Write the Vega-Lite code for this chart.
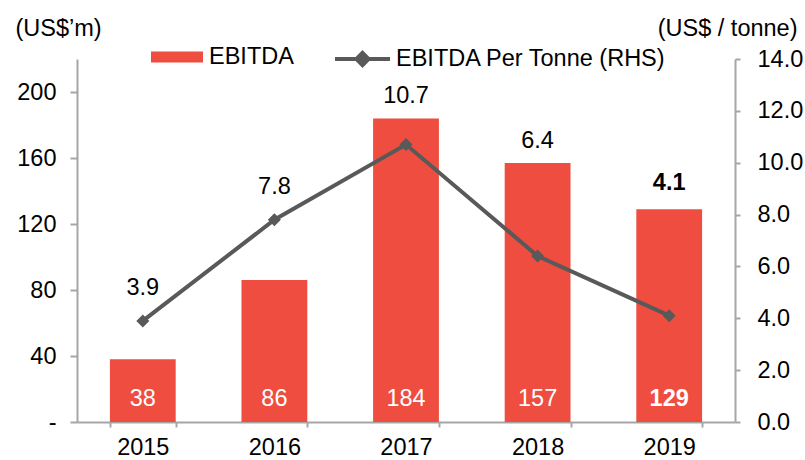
{
  "$schema": "https://vega.github.io/schema/vega-lite/v6.json",
  "width": 658,
  "height": 363,
  "autosize": {"type": "none"},
  "padding": {"left": 77, "top": 59, "right": 70, "bottom": 38},
  "background": "white",
  "config": {
    "font": "Liberation Sans",
    "view": {"stroke": null},
    "axis": {
      "labelFont": "Liberation Sans",
      "labelFontSize": 23.5,
      "labelColor": "#000000",
      "titleFont": "Liberation Sans",
      "titleFontSize": 23.5,
      "titleFontWeight": "normal",
      "titleColor": "#000000",
      "domainColor": "#A6A6A6",
      "tickColor": "#A6A6A6",
      "domainWidth": 2,
      "tickWidth": 2,
      "grid": false
    },
    "legend": {
      "labelFont": "Liberation Sans",
      "labelFontSize": 23.5,
      "labelColor": "#000000",
      "labelLimit": 500,
      "padding": 0,
      "orient": "none"
    }
  },
  "data": {
    "values": [
      {"year": "2015", "ebitda": 38, "tonne": 3.9},
      {"year": "2016", "ebitda": 86, "tonne": 7.8},
      {"year": "2017", "ebitda": 184, "tonne": 10.7},
      {"year": "2018", "ebitda": 157, "tonne": 6.4},
      {"year": "2019", "ebitda": 129, "tonne": 4.1}
    ]
  },
  "layer": [
    {
      "encoding": {
        "x": {
          "field": "year",
          "type": "nominal",
          "scale": {"paddingInner": 0.5, "paddingOuter": 0.25},
          "axis": {"title": null, "labelAngle": 0, "tickBand": "extent", "tickSize": 5, "labelPadding": 8}
        },
        "y": {
          "field": "ebitda",
          "type": "quantitative",
          "scale": {"domain": [0, 220], "nice": false},
          "axis": {
            "values": [0, 40, 80, 120, 160, 200],
            "labelExpr": "datum.value == 0 ? '-' : datum.label",
            "tickSize": 7,
            "labelPadding": 14,
            "title": "(US$\u2019m)",
            "titleAngle": 0,
            "titleAlign": "left",
            "titleBaseline": "alphabetic",
            "titleX": -62,
            "titleY": -24
          }
        }
      },
      "layer": [
        {
          "mark": {"type": "bar"},
          "encoding": {
            "fill": {
              "datum": "EBITDA",
              "type": "nominal",
              "scale": {"range": ["#EE4D3F"]},
              "legend": {
                "title": null,
                "legendX": 74,
                "legendY": -28,
                "symbolType": "M-1,-0.21H1V0.21H-1Z",
                "symbolSize": 2704,
                "symbolStrokeWidth": 0,
                "labelOffset": 6
              }
            }
          }
        },
        {
          "transform": [{"filter": "datum.year != '2019'"}],
          "mark": {"type": "text", "color": "white", "fontSize": 23.5, "baseline": "alphabetic", "dy": -16},
          "encoding": {
            "y": {"datum": 0},
            "text": {"field": "ebitda", "type": "quantitative"}
          }
        },
        {
          "transform": [{"filter": "datum.year == '2019'"}],
          "mark": {"type": "text", "color": "white", "fontSize": 23.5, "fontWeight": "bold", "baseline": "alphabetic", "dy": -16},
          "encoding": {
            "y": {"datum": 0},
            "text": {"field": "ebitda", "type": "quantitative"}
          }
        },
        {
          "transform": [{"filter": "datum.tonne * 220 / 14 <= datum.ebitda && datum.year != '2019'"}],
          "mark": {"type": "text", "color": "black", "fontSize": 23.5, "baseline": "alphabetic", "dy": -15},
          "encoding": {
            "text": {"field": "tonne", "type": "quantitative", "format": ".1f"}
          }
        },
        {
          "transform": [{"filter": "datum.tonne * 220 / 14 <= datum.ebitda && datum.year == '2019'"}],
          "mark": {"type": "text", "color": "black", "fontSize": 23.5, "fontWeight": "bold", "baseline": "alphabetic", "dy": -19},
          "encoding": {
            "text": {"field": "tonne", "type": "quantitative", "format": ".1f"}
          }
        }
      ]
    },
    {
      "encoding": {
        "x": {"field": "year", "type": "nominal"},
        "y": {
          "field": "tonne",
          "type": "quantitative",
          "scale": {"domain": [0, 14], "nice": false},
          "axis": {
            "orient": "right",
            "values": [0, 2, 4, 6, 8, 10, 12, 14],
            "format": ".1f",
            "tickSize": 5,
            "labelPadding": 17,
            "title": "(US$ / tonne)",
            "titleAngle": 0,
            "titleAlign": "right",
            "titleBaseline": "alphabetic",
            "titleX": 62,
            "titleY": -24
          }
        }
      },
      "layer": [
        {
          "mark": {"type": "line", "strokeWidth": 4},
          "encoding": {
            "stroke": {
              "datum": "EBITDA Per Tonne (RHS)",
              "type": "nominal",
              "scale": {"range": ["#595959"]},
              "legend": {
                "title": null,
                "legendX": 256,
                "legendY": -29.5,
                "symbolType": "M-1,0H1M0,-0.22L0.22,0L0,0.22L-0.22,0Z",
                "symbolSize": 3025,
                "symbolStrokeWidth": 4,
                "symbolFillColor": "#595959",
                "labelOffset": 4
              }
            }
          }
        },
        {
          "mark": {"type": "point", "shape": "diamond", "filled": true, "size": 169, "color": "#595959", "opacity": 1},
          "encoding": {}
        },
        {
          "transform": [{"filter": "datum.tonne * 220 / 14 > datum.ebitda"}],
          "mark": {"type": "text", "color": "black", "fontSize": 23.5, "baseline": "alphabetic", "dy": -26},
          "encoding": {
            "text": {"field": "tonne", "type": "quantitative", "format": ".1f"}
          }
        }
      ]
    }
  ],
  "resolve": {"scale": {"y": "independent", "fill": "independent", "stroke": "independent"}}
}
